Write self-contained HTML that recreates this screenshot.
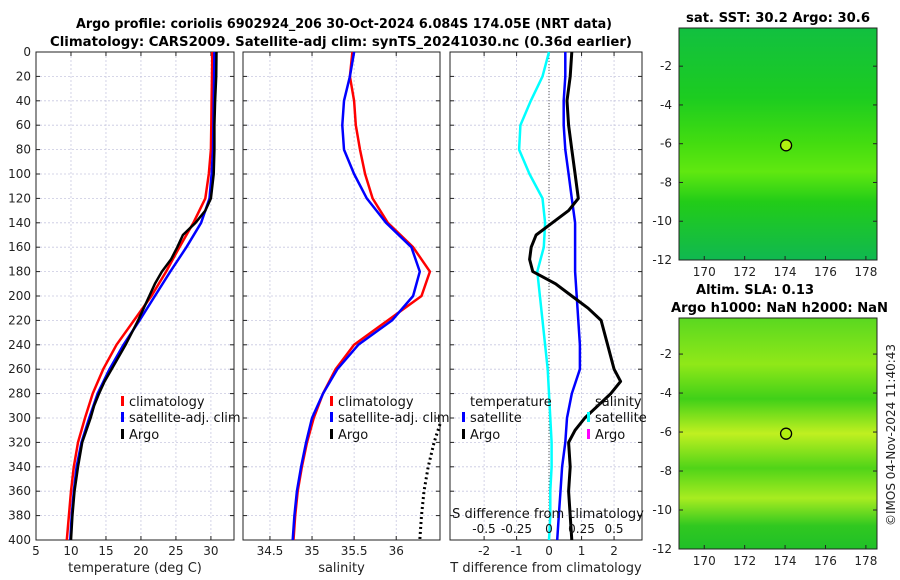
<!DOCTYPE html>
<html><head><meta charset="utf-8">
<style>
body{margin:0;background:#fff;}
svg{display:block;font-family:"DejaVu Sans","Liberation Sans",sans-serif;}
</style></head>
<body>
<svg id="fig" width="900" height="580" viewBox="0 0 900 580">
<defs>
<linearGradient id="sstGrad" x1="0" y1="0" x2="0" y2="1">
<stop offset="0" stop-color="#12c040"/><stop offset="0.3" stop-color="#1ccc20"/>
<stop offset="0.5" stop-color="#44dd10"/><stop offset="0.62" stop-color="#60e810"/>
<stop offset="0.75" stop-color="#22cc18"/><stop offset="1" stop-color="#10b850"/>
</linearGradient>
<linearGradient id="slaGrad" x1="0" y1="0" x2="0" y2="1">
<stop offset="0" stop-color="#5ad820"/><stop offset="0.2" stop-color="#90e818"/>
<stop offset="0.35" stop-color="#40d018"/><stop offset="0.5" stop-color="#c0f020"/>
<stop offset="0.65" stop-color="#50d418"/><stop offset="0.78" stop-color="#a8ec20"/>
<stop offset="0.9" stop-color="#30c820"/><stop offset="1" stop-color="#20c028"/>
</linearGradient>
</defs>
<text x="76" y="28" textLength="536" lengthAdjust="spacingAndGlyphs" font-size="13" font-weight="bold">Argo profile: coriolis 6902924_206 30-Oct-2024 6.084S 174.05E (NRT data)</text>
<text x="50" y="46" textLength="582" lengthAdjust="spacingAndGlyphs" font-size="13" font-weight="bold">Climatology: CARS2009. Satellite-adj clim: synTS_20241030.nc (0.36d earlier)</text>
<g id="layer"></g>
<text x="686" y="22" textLength="184" lengthAdjust="spacingAndGlyphs" font-size="13" font-weight="bold">sat. SST: 30.2 Argo: 30.6</text>
<text x="696" y="294" textLength="118" lengthAdjust="spacingAndGlyphs" font-size="13" font-weight="bold">Altim. SLA: 0.13</text>
<text x="671" y="312" textLength="217" lengthAdjust="spacingAndGlyphs" font-size="13" font-weight="bold">Argo h1000: NaN h2000: NaN</text>
<text transform="translate(895,435) rotate(-90)" text-anchor="middle" font-size="12" fill="#222">©IMOS 04-Nov-2024 11:40:43</text>
</svg>
<script>
// ---- data ----
const depths = [0,20,40,60,80,100,120,140,160,180,200,220,240,260,280,300,320,340,360,380,400];
const tempClim = [30.2,30.15,30.1,30.05,30.0,29.7,29.2,27.5,25.5,23.6,21.5,19.0,16.5,14.6,13.1,12.0,11.0,10.4,10.0,9.7,9.4];
const tempSat = [30.5,30.45,30.4,30.35,30.3,30.1,29.8,28.6,26.5,24.2,22.0,19.8,17.5,15.5,13.8,12.6,11.5,10.8,10.4,10.1,9.9];
const argoDepths = [0,20,40,60,80,100,120,130,140,150,160,170,180,190,200,210,220,240,260,270,280,290,300,310,320,340,360,380,400];
const tempArgo = [30.8,30.75,30.6,30.5,30.5,30.4,30.0,29.2,27.8,26.0,25.2,24.3,23.0,22.0,21.2,20.4,19.6,17.8,15.8,14.8,14.0,13.3,12.8,12.2,11.6,11.0,10.5,10.2,10.0];
const salClim = [35.48,35.45,35.5,35.52,35.57,35.63,35.72,35.9,36.2,36.4,36.3,35.9,35.5,35.28,35.13,35.02,34.94,34.88,34.83,34.8,34.78];
const salSat = [35.5,35.45,35.38,35.36,35.38,35.5,35.65,35.88,36.18,36.28,36.2,35.95,35.55,35.3,35.13,35.0,34.93,34.87,34.82,34.79,34.77];
const salArgoDepths = [305,320,340,360,380,400];
const salArgo = [36.52,36.45,36.38,36.33,36.3,36.28];
const sDiffSat = [0,-0.05,-0.14,-0.22,-0.23,-0.15,-0.05,-0.03,-0.04,-0.09,-0.07,-0.05,-0.03,-0.01,0,0.01,0.02,0.02,0.01,0.01,0];
const tDiffSat = [0.5,0.5,0.45,0.45,0.5,0.6,0.7,0.8,0.8,0.8,0.85,0.9,0.95,0.95,0.7,0.55,0.5,0.4,0.35,0.3,0.25];
const tDiffArgo = [0.7,0.65,0.55,0.6,0.7,0.8,0.9,0.6,0.1,-0.4,-0.55,-0.6,-0.5,0.2,0.7,1.2,1.6,1.8,2.0,2.2,1.9,1.5,1.1,0.8,0.6,0.65,0.6,0.65,0.7];
const tempTicks = [5,10,15,20,25,30];
const salTicks = [34.5,35,35.5,36];
const tdTicks = [-2,-1,0,1,2];
const sdTicks = [-0.5,-0.25,0,0.25,0.5];
const sdTickLabels = ["-0.5","-0.25","0","0.25","0.5"];
const depthTicks = [0,20,40,60,80,100,120,140,160,180,200,220,240,260,280,300,320,340,360,380,400];
const lonTicks = [170,172,174,176,178];
const latTicks = [-2,-4,-6,-8,-10,-12];

const NS="http://www.w3.org/2000/svg";
const layer=document.getElementById('layer');
function mk(tag,attrs,parent,txt){const e=document.createElementNS(NS,tag);for(const k in attrs)e.setAttribute(k,attrs[k]);if(txt!==undefined)e.textContent=txt;(parent||layer).appendChild(e);return e;}

const yTop=52, yBot=540;
function yD(d){return yTop+(d/400)*(yBot-yTop);}

function panel(name,x0,x1,vmin,vmax,ticks,labels,xlabel,showY){
  const g=mk('g',{});
  
  
  const sx=v=>x0+(v-vmin)/(vmax-vmin)*(x1-x0);
  ticks.forEach(t=>{mk('line',{x1:sx(t),x2:sx(t),y1:yTop,y2:yBot,stroke:'#c8c8e0','stroke-dasharray':'2,2','stroke-width':0.8},g);});
  depthTicks.forEach(d=>{mk('line',{x1:x0,x2:x1,y1:yD(d),y2:yD(d),stroke:'#c8c8e0','stroke-dasharray':'2,2','stroke-width':0.8},g);
    mk('line',{x1:x0,x2:x0+4,y1:yD(d),y2:yD(d),stroke:'#222'},g);mk('line',{x1:x1-4,x2:x1,y1:yD(d),y2:yD(d),stroke:'#222'},g);
    if(showY){const t=mk('text',{x:x0-5,y:yD(d)+4,'text-anchor':'end','font-size':12,fill:'#222'},g,String(d));}});
  ticks.forEach((t,i)=>{mk('line',{x1:sx(t),x2:sx(t),y1:yBot,y2:yBot-4,stroke:'#222'},g);mk('line',{x1:sx(t),x2:sx(t),y1:yTop,y2:yTop+4,stroke:'#222'},g);
    const tx=mk('text',{x:sx(t),y:yBot+15,'text-anchor':'middle','font-size':12,fill:'#222'},g,labels[i]);
    });
  mk('rect',{x:x0,y:yTop,width:x1-x0,height:yBot-yTop,fill:'none',stroke:'#222','stroke-width':1},g);
  const xl=mk('text',{x:(x0+x1)/2,y:572,'text-anchor':'middle','font-size':13,fill:'#222'},g,xlabel);
  
  return {g,sx};
}
function line(p,sx,vals,ds,color,w,name,dash){
  const pts=vals.map((v,i)=>sx(v).toFixed(1)+','+yD(ds[i]).toFixed(1)).join(' ');
  const a={points:pts,fill:'none',stroke:color,'stroke-width':w,'stroke-linejoin':'round'};
  if(dash)a['stroke-dasharray']=dash;
  const e=mk('polyline',a,p);
  
  
}
function legend(p,x,y,color,label,name){
  const g=mk('g',{},p);
  
  
  mk('rect',{x:x,y:y-10,width:3,height:10,fill:color},g);
  mk('text',{x:x+8,y:y,'font-size':13,fill:'#111'},g,label);
}

// panel 1
const P1=panel('temperature-panel',36,234,5,33.3,tempTicks,tempTicks.map(String),'temperature (deg C)',true);
line(P1.g,P1.sx,tempClim,depths,'#ff0000',2.5,'temp-climatology-line');
line(P1.g,P1.sx,tempSat,depths,'#0000ff',2.5,'temp-satellite-line');
line(P1.g,P1.sx,tempArgo,argoDepths,'#000',2.5,'temp-argo-line');
legend(P1.g,121,406,'#ff0000','climatology','legend-climatology');
legend(P1.g,121,422,'#0000ff','satellite-adj. clim','legend-satellite');
legend(P1.g,121,439,'#000','Argo','legend-argo');

// panel 2
const P2=panel('salinity-panel',243,440,34.18,36.52,salTicks,salTicks.map(String),'salinity',false);
line(P2.g,P2.sx,salClim,depths,'#ff0000',2.5,'sal-climatology-line');
line(P2.g,P2.sx,salSat,depths,'#0000ff',2.5,'sal-satellite-line');
line(P2.g,P2.sx,salArgo,salArgoDepths,'#000',3,'sal-argo-line','2,3');
legend(P2.g,330,406,'#ff0000','climatology','legend-climatology');
legend(P2.g,330,422,'#0000ff','satellite-adj. clim','legend-satellite');
legend(P2.g,330,439,'#000','Argo','legend-argo');

// panel 3
const P3=panel('difference-panel',450,642,-3.05,2.86,tdTicks,tdTicks.map(String),'T difference from climatology',false);
const sxS=v=>549+v*130;
mk('line',{x1:549,x2:549,y1:yTop,y2:yBot,stroke:'#555','stroke-dasharray':'1,2'},P3.g);
line(P3.g,sxS,sDiffSat,depths,'#00ffff',2.5,'sdiff-satellite-line');
line(P3.g,P3.sx,tDiffSat,depths,'#0000ff',2.5,'tdiff-satellite-line');
line(P3.g,P3.sx,tDiffArgo,argoDepths,'#000',3,'tdiff-argo-line');
mk('text',{x:470,y:406,'font-size':13,fill:'#111'},P3.g,'temperature');
legend(P3.g,462,422,'#0000ff','satellite','legend-t-satellite');
legend(P3.g,462,439,'#000','Argo','legend-t-argo');
mk('text',{x:595,y:406,'font-size':13,fill:'#111'},P3.g,'salinity');
legend(P3.g,587,422,'#00ffff','satellite','legend-s-satellite');
legend(P3.g,587,439,'#ff00ff','Argo','legend-s-argo');
mk('text',{x:548,y:518,'text-anchor':'middle','font-size':13,fill:'#111'},P3.g,'S difference from climatology');
sdTicks.forEach((t,i)=>{const e=mk('text',{x:sxS(t),y:533,'text-anchor':'middle','font-size':12,fill:'#111'},P3.g,sdTickLabels[i]);
  });

// maps
function map(name,y0,y1,grad,latTop){
  const g=mk('g',{});
  
  
  const x0=679,x1=877;
  const sx=v=>x0+(v-168.75)/(178.55-168.75)*(x1-x0);
  const sy=v=>y0+(latTop-v)/(latTop+12)*(y1-y0);
  mk('rect',{x:x0,y:y0,width:x1-x0,height:y1-y0,fill:'url(#'+grad+')'},g);
  mk('rect',{x:x0,y:y0,width:x1-x0,height:y1-y0,fill:'none',stroke:'#222'},g);
  lonTicks.forEach(t=>{mk('line',{x1:sx(t),x2:sx(t),y1:y1,y2:y1-4,stroke:'#222'},g);
    const e=mk('text',{x:sx(t),y:y1+16,'text-anchor':'middle','font-size':12,fill:'#222'},g,String(t));
    });
  latTicks.forEach(t=>{mk('line',{x1:x0,x2:x0+4,y1:sy(t),y2:sy(t),stroke:'#222'},g);mk('line',{x1:x1-4,x2:x1,y1:sy(t),y2:sy(t),stroke:'#222'},g);
    const e=mk('text',{x:x0-7,y:sy(t)+4,'text-anchor':'end','font-size':12,fill:'#222'},g,String(t));
    });
  const c=mk('circle',{cx:sx(174.05),cy:sy(-6.084),r:5.5,fill:'#b0f010',stroke:'#000','stroke-width':1.3},g);
  
}
map('sst-map',28,260,'sstGrad',-0.03);
map('sla-map',318,549,'slaGrad',-0.15);
</script>
</body></html>
